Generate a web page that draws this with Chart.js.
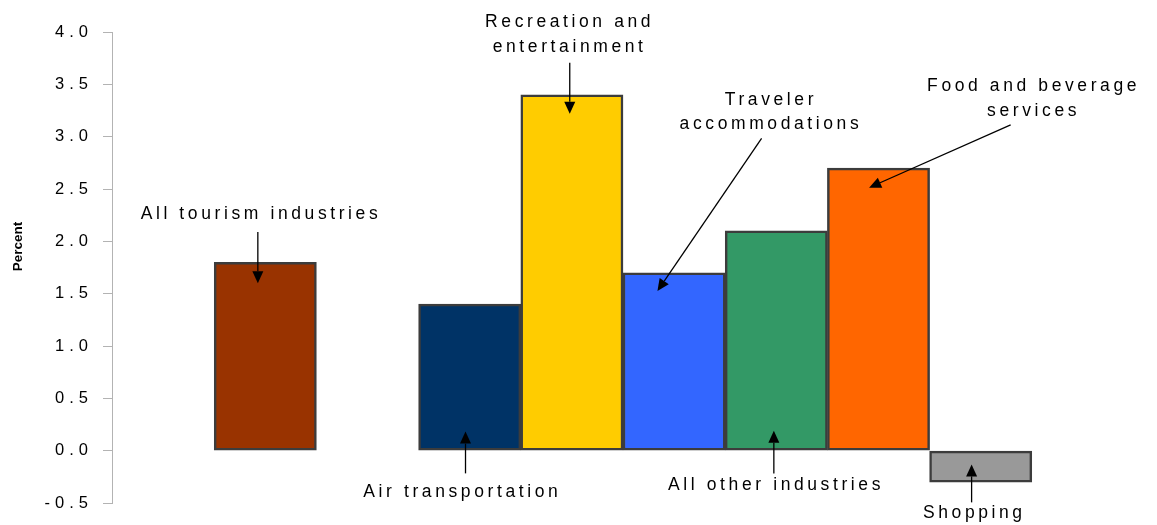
<!DOCTYPE html>
<html lang="en">
<head>
<meta charset="UTF-8" />
<title>Tourism industries: percent change</title>
<script src="https://cdn.jsdelivr.net/npm/chart.js@4.4.1/dist/chart.umd.min.js"></script>
<style>
  body { margin: 0; background: #fff; }
</style>
</head>
<body>
<canvas id="chart" width="1157" height="525"></canvas>
<script>

// empty slots keep the gaps seen in the picture
const categories = ['', 'All tourism industries', '', 'Air transportation', 'Recreation and entertainment',
  'Traveler accommodations', 'All other industries', 'Food and beverage services', 'Shopping', ''];
const percentChange = [null, 1.8, null, 1.4, 3.4, 1.7, 2.1, 2.7, -0.3, null];
const barColors = [null, '#993300', null, '#003366', '#FFCC00', '#3366FF', '#339966', '#FF6600', '#999999', null];
const yMin = -0.5;
const yMax = 4.0;
const yStep = 0.5;

// callout text and arrows, in data units (category index, percent)
const calloutSpecs = [
  { lines: ['All tourism industries'], text: [0.94, 2.255], from: [0.927, 2.09], to: [0.927, 1.60] },
  { lines: ['Recreation and', 'entertainment'], text: [3.96, 4.09], from: [3.979, 3.707], to: [3.979, 3.22] },
  { lines: ['Traveler', 'accommodations'], text: [5.93, 3.35], from: [5.856, 2.984], to: [4.837, 1.526] },
  { lines: ['Food and beverage', 'services'], text: [8.5, 3.478], from: [8.293, 3.112], to: [6.908, 2.513] },
  { lines: ['Air transportation'], text: [2.91, -0.392], from: [2.959, -0.217], to: [2.959, 0.182] },
  { lines: ['All other industries'], text: [5.98, -0.328], from: [5.976, -0.217], to: [5.976, 0.191] },
  { lines: ['Shopping'], text: [7.92, -0.599], from: [7.911, -0.494], to: [7.911, -0.131] }
];

function drawArrow(ctx, x1, y1, x2, y2) {
  const ang = Math.atan2(y2 - y1, x2 - x1);
  const head = 12, half = 5.5;
  const bx = x2 - head * Math.cos(ang), by = y2 - head * Math.sin(ang);
  ctx.lineWidth = 1.3;
  ctx.beginPath(); ctx.moveTo(x1, y1); ctx.lineTo(bx, by); ctx.stroke();
  ctx.beginPath();
  ctx.moveTo(x2, y2);
  ctx.lineTo(bx + half * Math.sin(ang), by - half * Math.cos(ang));
  ctx.lineTo(bx - half * Math.sin(ang), by + half * Math.cos(ang));
  ctx.closePath(); ctx.fill();
}

const callouts = {
  id: 'callouts',
  beforeDraw(chart) {
    // the source uses widely spaced lettering
    chart.ctx.letterSpacing = '5px';
  },
  afterDraw(chart) {
    const { ctx, scales: { x, y } } = chart;
    ctx.save();
    ctx.fillStyle = '#000';
    ctx.strokeStyle = '#000';
    ctx.letterSpacing = '3.6px';
    ctx.font = '17.5px "Liberation Sans", Arial, sans-serif';
    ctx.textAlign = 'center';
    ctx.textBaseline = 'middle';
    calloutSpecs.forEach(c => {
      const tx = x.getPixelForValue(c.text[0]) + 1.8;
      const ty = y.getPixelForValue(c.text[1]);
      c.lines.forEach((line, i) => ctx.fillText(line, tx, ty + i * 24.5));
      drawArrow(ctx, x.getPixelForValue(c.from[0]), y.getPixelForValue(c.from[1]),
        x.getPixelForValue(c.to[0]), y.getPixelForValue(c.to[1]));
    });

    // y axis title
    ctx.letterSpacing = '0px';
    ctx.font = 'bold 13.5px "Liberation Sans", Arial, sans-serif';
    ctx.translate(18, y.getPixelForValue(1.95));
    ctx.rotate(-Math.PI / 2);
    ctx.fillText('Percent', 0, 0);
    ctx.restore();
    ctx.letterSpacing = '0px';
  }
};

const ctx = document.getElementById('chart').getContext('2d');
new Chart(ctx, {
  type: 'bar',
  data: {
    labels: categories,
    datasets: [{
      data: percentChange,
      backgroundColor: barColors,
      borderColor: '#3c3c3c',
      borderWidth: 2.5,
      borderSkipped: false,
      barPercentage: 1,
      categoryPercentage: 1
    }]
  },
  options: {
    responsive: false,
    animation: false,
    layout: { padding: { top: 32, bottom: 22, right: 23, left: 0 } },
    plugins: { legend: { display: false }, tooltip: { enabled: false } },
    scales: {
      x: { display: false },
      y: {
        min: yMin,
        max: yMax,
        ticks: {
          stepSize: yStep,
          callback: v => v.toFixed(1),
          color: '#000',
          padding: 10,
          font: { family: '"Liberation Sans", Arial, sans-serif', size: 16.5 }
        },
        grid: { drawOnChartArea: false, drawTicks: true, tickLength: 9, color: '#b3b3b3' },
        border: { display: true, color: '#b3b3b3', width: 1 },
        afterFit: scale => { scale.width = 112; }
      }
    }
  },
  plugins: [callouts]
});
</script>
</body>
</html>
